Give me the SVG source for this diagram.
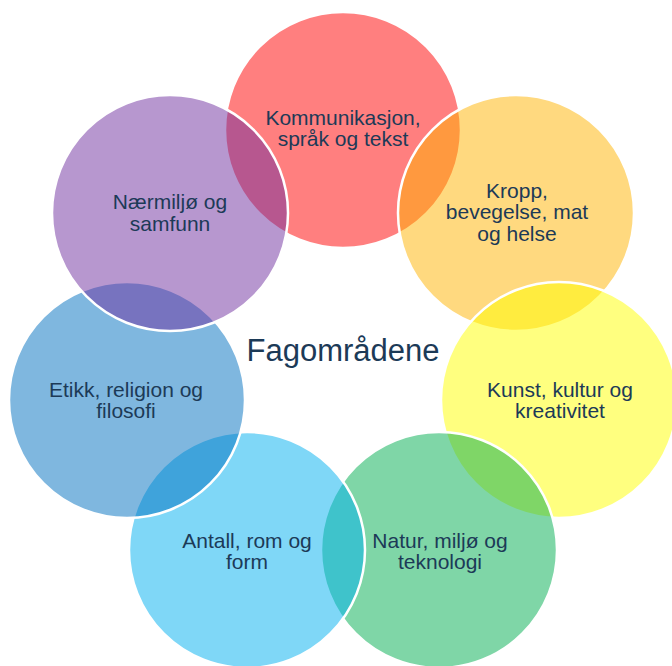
<svg xmlns="http://www.w3.org/2000/svg" width="672" height="666" viewBox="0 0 672 666">
<style>
.c{fill-opacity:0.5;stroke:#ffffff;stroke-width:2.5}
.t{font-family:"Liberation Sans",Arial,sans-serif;font-size:21px;fill:#1c3a57;text-anchor:middle}
.title{font-family:"Liberation Sans",Arial,sans-serif;font-size:31px;fill:#1c3a57;text-anchor:middle}
</style>
<rect width="672" height="666" fill="#ffffff"/>
<g id="n1"><circle class="c" cx="343" cy="130" r="118" fill="#FF0000"/></g>
<g id="n2"><circle class="c" cx="516" cy="213" r="118" fill="#FFB300"/></g>
<g id="n3"><circle class="c" cx="559" cy="400" r="118" fill="#FFFF00"/></g>
<g id="n4"><circle class="c" cx="439" cy="550" r="118" fill="#00AD50"/></g>
<g id="n5"><circle class="c" cx="247" cy="550" r="118" fill="#00B0F0"/></g>
<g id="n6"><circle class="c" cx="127" cy="400" r="118" fill="#0070C0"/></g>
<g id="n7"><circle class="c" cx="170" cy="213" r="118" fill="#7030A0"/></g>
<g id="connectors"></g>
<g id="labels">
<text class="t" x="343" y="125">Kommunikasjon,</text>
<text class="t" x="343" y="146">språk og tekst</text>
<text class="t" x="517" y="198">Kropp,</text>
<text class="t" x="517" y="219">bevegelse, mat</text>
<text class="t" x="517" y="241">og helse</text>
<text class="t" x="560" y="397">Kunst, kultur og</text>
<text class="t" x="560" y="418">kreativitet</text>
<text class="t" x="440" y="548">Natur, miljø og</text>
<text class="t" x="440" y="569">teknologi</text>
<text class="t" x="247" y="548">Antall, rom og</text>
<text class="t" x="247" y="569">form</text>
<text class="t" x="126" y="397">Etikk, religion og</text>
<text class="t" x="126" y="418">filosofi</text>
<text class="t" x="170" y="209">Nærmiljø og</text>
<text class="t" x="170" y="231">samfunn</text>
<text class="title" x="343" y="361">Fagområdene</text>
</g>
</svg>
